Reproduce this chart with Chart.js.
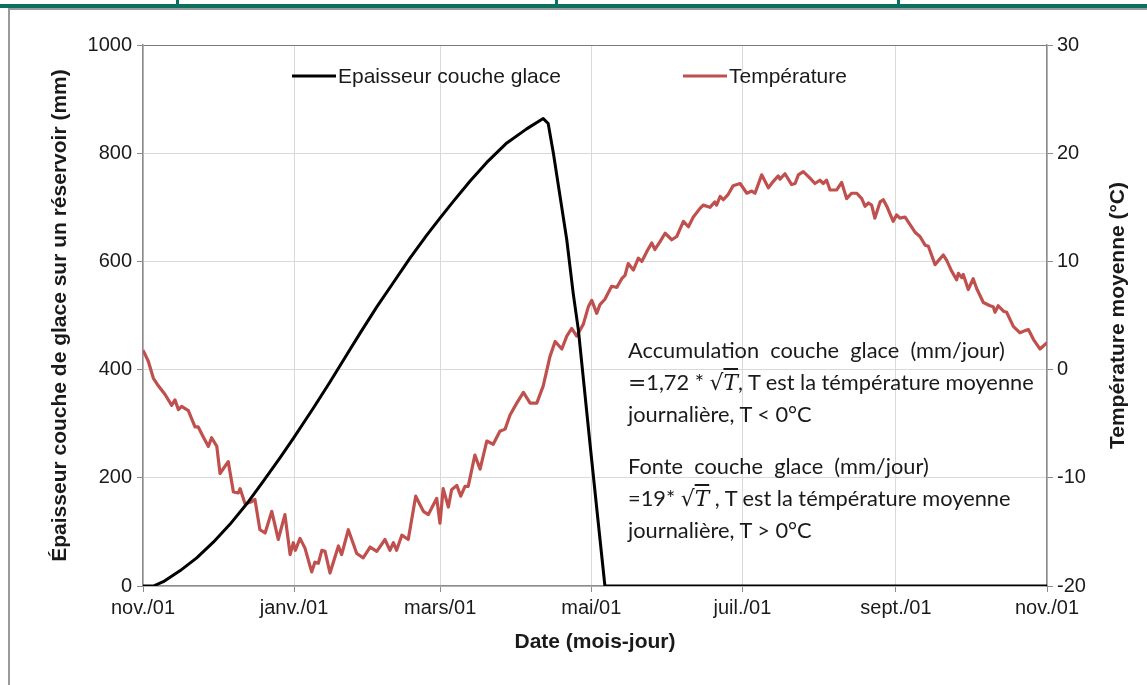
<!DOCTYPE html>
<html>
<head>
<meta charset="utf-8">
<script src="https://cdn.jsdelivr.net/npm/chart.js@4.4.1/dist/chart.umd.min.js"></script>
<style>
  html, body { margin: 0; padding: 0; background: #fff; }
  #wrap { position: relative; width: 1147px; height: 685px; overflow: hidden; }
  #c { position: absolute; left: 0; top: 0; }
  .green { position: absolute; background: #0b7060; }
  .grey { position: absolute; background: #9a9a9a; }
  .note {
    position: absolute; left: 628px;
    font-family: Lato, "Open Sans", sans-serif; font-size: 21.8px; line-height: 31.5px;
    color: #1a1a1a; white-space: pre;
  }
  .rad { font-family: "DejaVu Serif", serif; }
  .rad i { text-decoration: overline; font-family: "DejaVu Serif", serif; }
</style>
</head>
<body>
<div id="wrap">
  <canvas id="c" width="1147" height="685"></canvas>
  <div class="green" style="left:0;top:4px;width:1147px;height:4px"></div>
  <div class="green" style="left:176px;top:0;width:3px;height:6px"></div>
  <div class="green" style="left:555px;top:0;width:3px;height:6px"></div>
  <div class="green" style="left:897px;top:0;width:3px;height:6px"></div>
  <div class="grey" style="left:8px;top:8px;width:1139px;height:2px"></div>
  <div class="grey" style="left:8px;top:8px;width:2px;height:677px"></div>
  <div class="note" style="top:334px">Accumulation  couche  glace  (mm/jour)
<span class="rad">=</span>1,72 * <span class="rad">√<i>T</i></span>, T est la témpérature moyenne
journalière, T &lt; 0°C</div>
  <div class="note" style="top:450px">Fonte  couche  glace  (mm/jour)
=19* <span class="rad">√<i>T</i></span> , T est la témpérature moyenne
journalière, T &gt; 0°C</div>
</div>
<script>
// --- data (x = days since nov./01) ---
const monthTicks = [0, 61, 120, 181, 242, 304, 365];
const monthLabels = ['nov./01', 'janv./01', 'mars/01', 'mai/01', 'juil./01', 'sept./01', 'nov./01'];

const iceDays = [0, 4.2, 8.2, 14.9, 21.7, 28.4, 35.1, 41.9, 48.6, 55.3, 60.7, 68.8, 75.5, 82.2, 87.6,
  94.4, 101.1, 107.8, 114.5, 119.9, 125.3, 132.0, 138.8, 146.9, 154.9, 161.6, 163.6, 165.7, 168.4,
  171.1, 173.7, 175.8, 180.5, 183.7, 186.5, 365];
const iceValues = [0, 0, 8, 28, 52, 81, 114, 152, 194, 237, 273, 329, 377, 427, 467,
  516, 561, 606, 648, 680, 711, 748, 783, 819, 845, 864, 855, 800, 720,
  640, 541, 473, 262, 122, 0, 0];

const tempDays = [0, 2.1, 4.2, 6.2, 8.9, 11.6, 12.9, 14.3, 15.6, 18.3, 21.0, 22.3, 24.3, 26.4, 27.7,
  29.8, 31.1, 34.4, 36.5, 38.5, 39.2, 41.2, 43.9, 45.2, 47.2, 49.3, 52.0, 54.6, 57.3, 59.4, 60.7,
  61.5, 63.4, 65.4, 68.1, 69.4, 70.8, 72.2, 73.5, 75.5, 78.9, 80.2, 82.9, 86.3, 88.9, 91.7, 94.4,
  97.7, 99.7, 101.1, 102.4, 104.5, 107.1, 110.1, 113.2, 115.2, 118.6, 119.9, 121.2, 123.3, 124.6,
  126.7, 128.3, 130.0, 131.3, 134.0, 136.1, 138.8, 141.4, 144.1, 146.2, 148.2, 150.9, 153.6, 156.3,
  159.0, 161.6, 164.3, 166.4, 169.1, 171.1, 173.1, 175.1, 177.8, 179.8, 181.2, 183.2, 184.5, 186.5,
  189.2, 191.3, 193.3, 194.6, 195.9, 198.0, 200.0, 201.4, 203.4, 205.4, 206.7, 208.7, 210.8, 213.5,
  215.5, 218.2, 220.2, 222.2, 224.9, 226.2, 228.9, 230.9, 231.6, 233.0, 234.3, 236.3, 238.3, 241.1,
  243.8, 245.8, 247.1, 249.8, 252.5, 254.5, 256.5, 257.2, 259.2, 261.9, 263.3, 264.6, 266.6, 269.3,
  271.3, 273.3, 274.7, 276.0, 277.4, 280.1, 282.1, 284.1, 286.1, 288.2, 290.2, 291.5, 292.9, 294.2,
  295.5, 297.6, 298.9, 300.3, 302.9, 304.3, 305.6, 307.7, 309.7, 311.7, 313.7, 315.8, 317.1, 319.8,
  323.1, 324.5, 326.5, 328.5, 329.2, 330.6, 331.2, 333.2, 335.2, 336.6, 339.3, 342.0, 343.3, 344.0,
  345.3, 347.4, 348.7, 351.4, 354.1, 356.1, 357.5, 359.5, 362.2, 365];
const tempValues = [1.8, 0.8, -0.8, -1.5, -2.3, -3.3, -2.8, -3.7, -3.4, -3.8, -5.3, -5.3, -6.2, -7.1, -6.3,
  -7.1, -9.6, -8.5, -11.3, -11.4, -11.0, -12.4, -12.2, -12.0, -14.8, -15.1, -13.1, -15.7, -13.4, -17.1, -16.0,
  -16.7, -15.6, -16.5, -18.7, -17.8, -17.9, -16.7, -16.8, -18.8, -16.3, -17.1, -14.8, -17.0, -17.4, -16.4, -16.8,
  -15.7, -16.7, -16.0, -16.7, -15.3, -15.7, -11.7, -13.1, -13.4, -11.9, -14.2, -11.0, -12.7, -11.1,
  -10.7, -11.7, -10.8, -10.8, -7.9, -9.2, -6.6, -6.9, -5.7, -5.5, -4.2, -3.1, -2.1, -3.1,
  -3.1, -1.5, 1.2, 2.6, 1.9, 3.1, 3.8, 3.1, 4.2, 5.8, 6.4, 5.2, 6.0, 6.5,
  7.7, 7.6, 8.4, 8.7, 9.8, 9.2, 10.3, 10.0, 10.9, 11.7, 11.1, 11.8, 12.6, 12.0,
  12.3, 13.7, 13.2, 14.1, 14.9, 15.2, 15.0, 15.5, 15.2, 16.0, 15.7, 16.2, 17.0, 17.2,
  16.3, 16.5, 16.3, 18.0, 16.8, 17.4, 17.9, 17.6, 18.1, 17.1, 17.2, 18.0, 18.3, 17.7,
  17.2, 17.5, 17.2, 17.5, 16.6, 16.6, 17.3, 15.8, 16.3, 16.3, 15.8, 15.1, 15.4, 15.2,
  14.0, 15.5, 15.7, 15.1, 13.7, 14.3, 14.0, 14.1, 13.4, 12.7, 12.3, 11.5, 11.4, 9.7,
  10.6, 10.1, 9.1, 8.3, 8.9, 8.5, 8.8, 7.4, 8.4, 7.5, 6.2, 5.9, 5.8, 5.3,
  5.9, 5.4, 5.3, 4.0, 3.4, 3.6, 3.7, 2.8, 1.9, 2.5];

const TICK_FONT = { family: 'Liberation Sans, Arial, sans-serif', size: 20 };
const TITLE_FONT = { family: 'Liberation Sans, Arial, sans-serif', size: 21, weight: 'bold' };
const rightTitle = 'Température moyenne (°C)';

// legend drawn inside the plot, in one row like the original
const insideLegend = {
  id: 'insideLegend',
  afterDatasetsDraw(chart) {
    const { ctx, chartArea } = chart;
    const slots = [149, 540];
    const y = chartArea.top + 31;
    ctx.save();
    ctx.font = '21px "Liberation Sans", Arial, sans-serif';
    ctx.textBaseline = 'middle';
    ctx.fillStyle = '#1a1a1a';
    chart.data.datasets.forEach((ds, i) => {
      const x0 = chartArea.left + slots[i];
      ctx.strokeStyle = ds.borderColor;
      ctx.lineWidth = 3;
      ctx.beginPath();
      ctx.moveTo(x0, y);
      ctx.lineTo(x0 + 44, y);
      ctx.stroke();
      ctx.fillText(ds.label, x0 + 46, y + 1);
    });
    ctx.restore();
  }
};

// right axis title reads bottom-to-top in the original
const rightAxisTitle = {
  id: 'rightAxisTitle',
  afterDraw(chart) {
    const { ctx, chartArea } = chart;
    const s = chart.scales.y1;
    ctx.save();
    ctx.translate(s.right - 29, (chartArea.top + chartArea.bottom) / 2);
    ctx.rotate(-Math.PI / 2);
    ctx.font = 'bold 21px "Liberation Sans", Arial, sans-serif';
    ctx.fillStyle = '#1a1a1a';
    ctx.textAlign = 'center';
    ctx.textBaseline = 'middle';
    ctx.fillText(rightTitle, 0, 0);
    ctx.restore();
  }
};

new Chart(document.getElementById('c'), {
  type: 'line',
  data: {
    datasets: [
      {
        label: 'Epaisseur couche glace',
        data: iceDays.map((d, i) => ({ x: d, y: iceValues[i] })),
        borderColor: '#000000',
        borderWidth: 3,
        pointRadius: 0,
        borderJoinStyle: 'round',
        yAxisID: 'y'
      },
      {
        label: 'Température',
        data: tempDays.map((d, i) => ({ x: d, y: tempValues[i] })),
        borderColor: '#c0504d',
        borderWidth: 3.2,
        pointRadius: 0,
        borderJoinStyle: 'round',
        yAxisID: 'y1'
      }
    ]
  },
  options: {
    responsive: false,
    animation: false,
    layout: { padding: { top: 45, left: 0, right: 0, bottom: 0 } },
    plugins: { legend: { display: false }, tooltip: { enabled: false } },
    scales: {
      x: {
        type: 'linear',
        min: 0, max: 365,
        afterBuildTicks: (s) => { s.ticks = monthTicks.map(v => ({ value: v })); },
        afterFit: (s) => { s.height = 99; },
        ticks: {
          autoSkip: false, maxRotation: 0, padding: 4,
          color: '#1a1a1a', font: TICK_FONT,
          callback: (v, i) => monthLabels[i]
        },
        grid: { color: '#d9d9d9', tickColor: '#8c8c8c', tickLength: 6 },
        border: { color: '#8c8c8c', width: 1.5 },
        title: { display: true, text: 'Date (mois-jour)', color: '#1a1a1a', font: TITLE_FONT, padding: { top: 0, bottom: 30 } }
      },
      y: {
        position: 'left',
        min: 0, max: 1000,
        afterFit: (s) => { s.width = 143; },
        ticks: { stepSize: 200, padding: 5, color: '#1a1a1a', font: TICK_FONT, callback: (v) => String(v) },
        grid: {
          color: (c) => c.tick && c.tick.value === 1000 ? '#7a7a7a' : '#d9d9d9',
          tickColor: '#8c8c8c', tickLength: 6
        },
        border: { color: '#8c8c8c', width: 1.5 },
        title: { display: true, text: 'Épaisseur couche de glace sur un réservoir (mm)', color: '#1a1a1a', font: TITLE_FONT, padding: { top: 48, bottom: 0 } }
      },
      y1: {
        position: 'right',
        min: -20, max: 30,
        afterFit: (s) => { s.width = 100; },
        ticks: { stepSize: 10, padding: 4, color: '#1a1a1a', font: TICK_FONT, callback: (v) => String(v) },
        grid: { drawOnChartArea: false, tickColor: '#8c8c8c', tickLength: 6 },
        border: { color: '#8c8c8c', width: 1.5 }
      }
    }
  },
  plugins: [insideLegend, rightAxisTitle]
});
</script>
</body>
</html>
